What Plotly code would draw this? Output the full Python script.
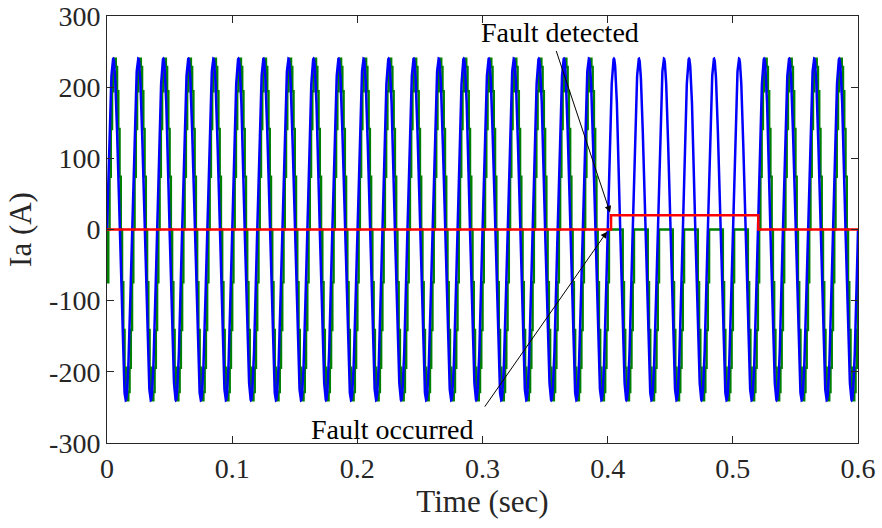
import numpy as np
import plotly.graph_objects as go

# ---- values ----
T_END = 0.6                 # s, end of record
FREQ_HZ = 50                # supply frequency (25 px per cycle)
AMP_A = 240                 # peak current of both traces (A)
GREEN_LAG_S = 0.001         # measured-current lag behind reference
GREEN_SAMPLE_S = 0.001      # staircase sample period of measured current
FAULT_START_S = 0.4         # green positive half-cycles suppressed from here
FAULT_END_S = 0.5203        # ... until here

red_t = [0.0, 0.4027, 0.4027, 0.5203, 0.5203, 0.6]
red_v = [0, 0, 20, 20, 0, 0]

x_ticks = [0, 0.1, 0.2, 0.3, 0.4, 0.5, 0.6]
y_ticks = [-300, -200, -100, 0, 100, 200, 300]

# ---- traces ----
t_blue = np.arange(0, T_END + 1e-9, 0.0001)
blue = AMP_A * np.sin(2 * np.pi * FREQ_HZ * t_blue)

t_green = np.arange(0, T_END + 1e-9, GREEN_SAMPLE_S)
green = AMP_A * np.sin(2 * np.pi * FREQ_HZ * (t_green - GREEN_LAG_S))
in_fault = (t_green >= FAULT_START_S) & (t_green < FAULT_END_S)
green = np.where(in_fault, np.minimum(green, 0), green)

FONT = "Liberation Serif"
TXT = "#262626"

fig = go.Figure()
fig.add_trace(go.Scatter(x=t_green, y=green, mode="lines", line_shape="hv",
                         line=dict(color="#008000", width=2.5), showlegend=False))
fig.add_trace(go.Scatter(x=t_blue, y=blue, mode="lines",
                         line=dict(color="#0000ff", width=2.5), showlegend=False))
fig.add_trace(go.Scatter(x=red_t, y=red_v, mode="lines",
                         line=dict(color="#ff0000", width=2.5), showlegend=False))

# annotations: text + separate arrows
fig.add_annotation(x=0.362, y=277, text="Fault detected", showarrow=False,
                   font=dict(family=FONT, size=28, color="black"))
fig.add_annotation(x=0.4019, y=24, ax=0.3585, ay=253, axref="x", ayref="y",
                   text="", showarrow=True, arrowhead=2, arrowsize=1.3,
                   arrowwidth=1, arrowcolor="black")
fig.add_annotation(x=0.228, y=-281, text="Fault occurred", showarrow=False,
                   font=dict(family=FONT, size=28, color="black"))
fig.add_annotation(x=0.3995, y=-3, ax=0.301, ay=-251, axref="x", ayref="y",
                   text="", showarrow=True, arrowhead=2, arrowsize=1.3,
                   arrowwidth=1, arrowcolor="black")

axis_common = dict(showline=True, mirror="ticks", linecolor=TXT, linewidth=1,
                   ticks="inside", ticklen=7, tickcolor=TXT, showgrid=False,
                   zeroline=False, automargin=False,
                   tickfont=dict(family=FONT, size=28, color=TXT))

fig.update_xaxes(range=[0, T_END], tickvals=x_ticks,
                 ticktext=[("%g" % v) for v in x_ticks],
                 title=dict(text="Time (sec)", font=dict(family=FONT, size=31, color=TXT),
                            standoff=6),
                 **axis_common)
fig.update_yaxes(range=[-300, 300], tickvals=y_ticks,
                 ticktext=[str(v) for v in y_ticks],
                 title=dict(text="Ia (A)", font=dict(family=FONT, size=31, color=TXT),
                            standoff=8),
                 **axis_common)

fig.update_layout(width=882, height=528, margin=dict(l=107, r=24, t=16, b=85),
                  plot_bgcolor="white", paper_bgcolor="white")

fig.write_html("out.html")
